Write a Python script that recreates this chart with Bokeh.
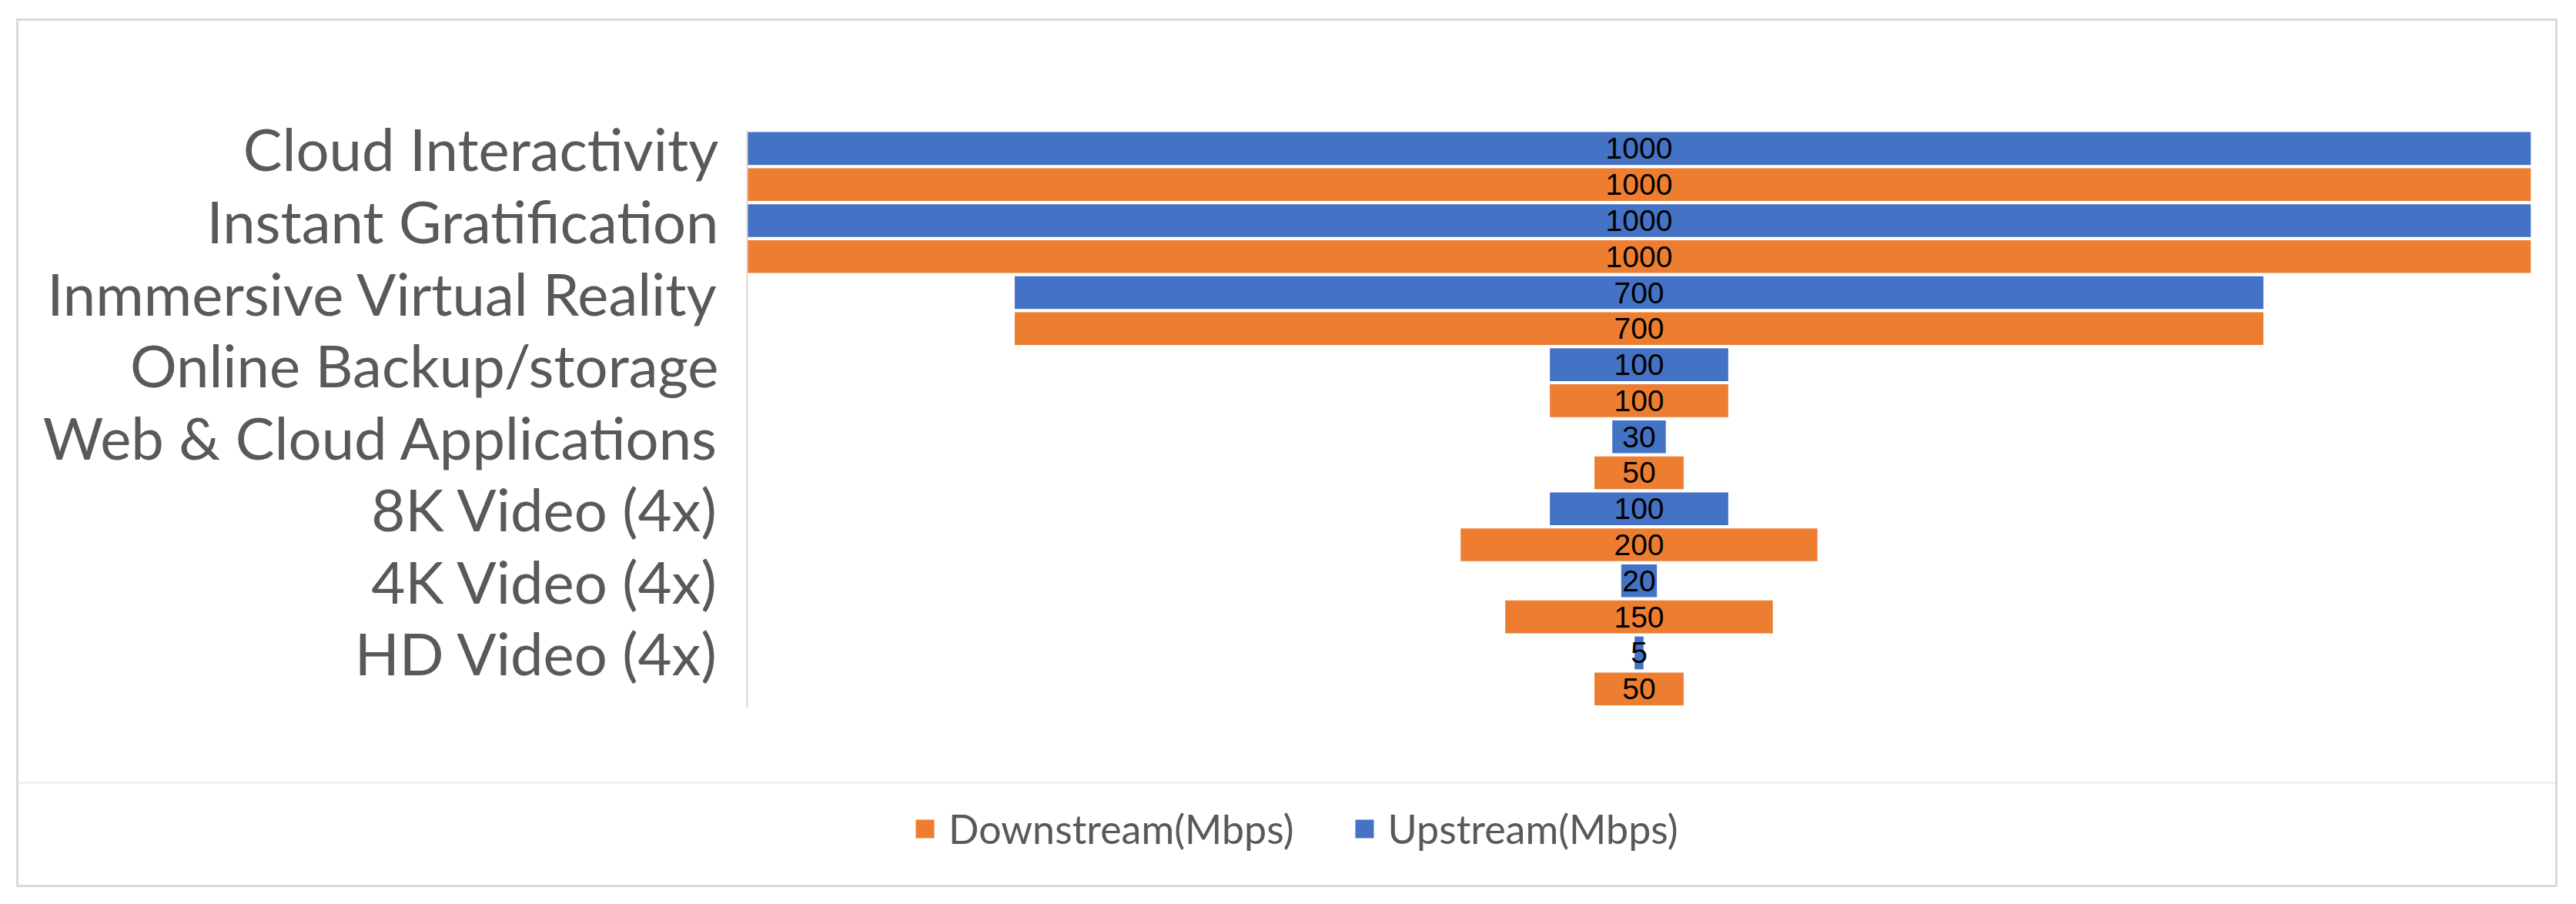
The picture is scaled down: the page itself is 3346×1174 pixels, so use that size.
from bokeh.plotting import figure
from bokeh.models import Range1d, FixedTicker, Legend, LegendItem, ColumnDataSource
from bokeh.core.properties import value
from bokeh.embed import file_html
from bokeh.resources import INLINE

categories = ["Cloud Interactivity", "Instant Gratification", "Inmmersive Virtual Reality",
              "Online Backup/storage", "Web & Cloud Applications", "8K Video (4x)",
              "4K Video (4x)", "HD Video (4x)"]
upstream = [1000, 1000, 700, 100, 30, 100, 20, 5]
downstream = [1000, 1000, 700, 100, 50, 200, 150, 50]

BLUE = "#4472C4"
ORANGE = "#ED7D31"
GRAY = "#595959"

n = len(categories)
up_y = [2 * i + 1 for i in range(n)]
down_y = [2 * i + 2 for i in range(n)]

up_src = ColumnDataSource(dict(y=up_y, left=[-v / 2 for v in upstream], right=[v / 2 for v in upstream],
                               x=[0] * n, txt=[str(v) for v in upstream]))
down_src = ColumnDataSource(dict(y=down_y, left=[-v / 2 for v in downstream], right=[v / 2 for v in downstream],
                                 x=[0] * n, txt=[str(v) for v in downstream]))

W, H = 3295, 1122
TOP = 142
LEFT = 946
RIGHT = 38
SLOT_PX = 46.5
FRAME_H = H - TOP
y_end = 0.5 + FRAME_H / SLOT_PX

p = figure(width=W, height=H,
           x_range=Range1d(-500, 500), y_range=Range1d(y_end, 0.5),
           output_backend="svg", toolbar_location=None, x_axis_location=None,
           min_border_left=LEFT, min_border_right=RIGHT, min_border_top=TOP, min_border_bottom=0)
p.margin = (24, 0, 0, 21)
p.styles = {"border": "3px solid #d9d9d9", "box-sizing": "content-box",
            "background": "linear-gradient(#eeeeee, #eeeeee) 0 988px / 100% 3px no-repeat"}
p.outline_line_color = None
p.xgrid.visible = False
p.ygrid.visible = False
p.background_fill_color = None
p.border_fill_color = None

r_up = p.hbar(y="y", left="left", right="right", height=0.91, source=up_src,
              fill_color=BLUE, line_color=None)
r_down = p.hbar(y="y", left="left", right="right", height=0.91, source=down_src,
                fill_color=ORANGE, line_color=None)

for src in (up_src, down_src):
    p.text(x="x", y="y", text="txt", source=src, text_align="center", text_baseline="middle",
           text_font=value("Liberation Sans"), text_font_size="39px", text_color="black")

ax = p.yaxis[0]
ax.ticker = FixedTicker(ticks=up_y)
ax.bounds = (0.5, 2 * n + 0.5)
ax.major_label_overrides = {y: c for y, c in zip(up_y, categories)}
ax.major_tick_line_color = None
ax.minor_tick_line_color = None
ax.major_tick_out = 0
ax.major_tick_in = 0
ax.major_label_standoff = 37
ax.major_label_text_font = "Lato"
ax.major_label_text_font_size = "76px"
ax.major_label_text_color = GRAY
ax.axis_line_color = "#d9d9d9"
ax.axis_line_width = 2

legend = Legend(items=[LegendItem(label="Downstream(Mbps)", renderers=[r_down]),
                       LegendItem(label="Upstream(Mbps)", renderers=[r_up])],
                orientation="horizontal", location=(216, 48),
                glyph_width=30, glyph_height=30, label_standoff=16, spacing=76,
                padding=0, margin=0, border_line_color=None, background_fill_alpha=0,
                label_text_font="Lato", label_text_font_size="52px", label_text_color=GRAY)
p.add_layout(legend)

open("out.html", "w").write(file_html(p, INLINE))
